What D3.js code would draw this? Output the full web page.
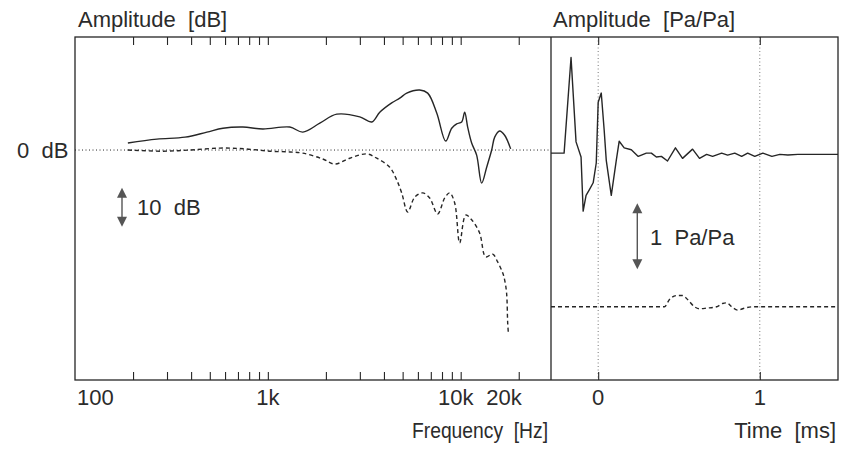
<!DOCTYPE html>
<html>
<head>
<meta charset="utf-8">
<script src="https://cdn.jsdelivr.net/npm/d3@7"></script>
<style>
  body { margin: 0; background: #fff; }
  text { font-family: "Liberation Sans", Arial, sans-serif; fill: #2b2b2b; }
</style>
</head>
<body>
<div id="chart"></div>
<script>
// frequency response, upper (solid) curve
const upperFreq = [188, 266, 372, 483, 585, 742, 942, 1300, 1518, 1860, 2278, 2998, 3458, 3805, 4389, 4831, 5250, 6134, 6745, 7513, 8363, 8983, 9533, 10120, 10490, 10870, 11400, 12100, 12850, 13640, 14480, 15010, 15920, 16900, 18160];
const upperDb   = [1.8, 2.8, 3.3, 4.6, 5.6, 5.9, 5.4, 5.9, 4.6, 6.9, 9.2, 8.5, 7.2, 9.7, 12.1, 13.3, 14.6, 15.4, 14.6, 9.5, 2.3, 5.6, 6.7, 7.2, 9.7, 5.9, 1.8, -1.3, -8.5, -4.4, 0, 3.3, 4.9, 3.8, 0.3];

// frequency response, lower (dashed) curve
const lowerFreq = [188, 286, 394, 564, 760, 1024, 1300, 1518, 1927, 2223, 2660, 3258, 3670, 4287, 4660, 4945, 5312, 5775, 6355, 6905, 7598, 8264, 8770, 9310, 9883, 10620, 11400, 12540, 13480, 14650, 15550, 16510, 16900, 17300, 17530, 17700];
const lowerDb   = [0, -0.3, 0, 0.5, 0.3, -0.3, -0.5, -0.8, -2.3, -3.6, -2.1, -1.0, -2.1, -4.4, -7.7, -11.0, -15.9, -12.1, -11.0, -12.3, -16.4, -12.3, -11.0, -13.6, -23.8, -16.7, -17.9, -21.3, -27.4, -26.7, -28.7, -31.5, -33.3, -36.7, -44.4, -47.4];

// impulse response, upper (solid) trace
const impTime = [-0.292, -0.211, -0.168, -0.137, -0.106, -0.093, -0.075, -0.056, -0.031, -0.012, 0, 0.019, 0.037, 0.05, 0.081, 0.112, 0.13, 0.161, 0.205, 0.248, 0.298, 0.329, 0.36, 0.391, 0.429, 0.478, 0.522, 0.584, 0.627, 0.671, 0.708, 0.764, 0.801, 0.845, 0.888, 0.925, 0.969, 1.019, 1.075, 1.124, 1.174, 1.236, 1.329, 1.484];
const impAmp  = [0, 0, 1.45, 0.17, -0.06, -0.88, -0.64, -0.56, -0.45, -0.15, 0.77, 0.91, 0.35, -0.11, -0.64, -0.11, 0.18, 0.08, 0.05, -0.05, 0, 0, -0.06, -0.05, -0.12, 0.08, -0.08, 0.06, -0.08, -0.02, -0.05, 0, -0.03, 0, -0.05, 0, -0.05, 0, -0.05, -0.02, -0.03, -0.02, -0.02, -0.02];

// impulse response, lower (dashed) trace
const lowTime = [-0.292, 0.41, 0.441, 0.484, 0.522, 0.553, 0.596, 0.627, 0.671, 0.733, 0.77, 0.795, 0.826, 0.863, 0.907, 0.957, 1.484];
const lowAmp  = [0, 0, 0.11, 0.17, 0.17, 0.11, 0, -0.03, -0.02, 0, 0.05, 0.06, 0, -0.05, -0.02, 0, 0];

const freqTicks = [200, 300, 400, 500, 600, 700, 800, 900, 1000, 2000, 3000, 4000, 5000, 6000, 7000, 8000, 9000, 10000, 20000];
const freqLabelValues = [100, 1000, 10000, 20000];
const freqLabels = ["100", "1k", "10k", "20k"];
const timeTicks = [0, 1];
const timeLabels = ["0", "1"];

(function chart(){

const width = 841, height = 449;
const top = 37, bottom = 380, left = 75, split = 551, right = 838;

const svg = d3.select("#chart")
  .append("svg")
  .attr("width", width)
  .attr("height", height)
  .attr("viewBox", [0, 0, width, height]);

svg.append("rect").attr("width", width).attr("height", height).attr("fill", "#fff");

let x = d3.scaleLog().domain([100, 29400]).range([left, split]);
let yL = d3.scaleLinear().domain([-59, 29]).range([bottom, top]);
let t = d3.scaleLinear().domain([-0.292, 1.484]).range([split, right]);
let yR = d3.scaleLinear().domain([-3.44, 1.76]).range([bottom, top]);
const lowOffset = -2.33; // lower trace is plotted shifted down

const ink = "#262626";

// dotted reference lines
svg.append("line")
  .attr("x1", left).attr("x2", split)
  .attr("y1", yL(0)).attr("y2", yL(0))
  .attr("stroke", ink).attr("stroke-width", 1).attr("stroke-dasharray", "1,2.5");

svg.append("g")
  .selectAll("line")
  .data(timeTicks)
  .join("line")
  .attr("x1", d => t(d)).attr("x2", d => t(d))
  .attr("y1", top).attr("y2", bottom)
  .attr("stroke", "#777").attr("stroke-width", 1).attr("stroke-dasharray", "1,2.5");

// frame
svg.append("rect")
  .attr("x", left).attr("y", top)
  .attr("width", right - left).attr("height", bottom - top)
  .attr("fill", "none").attr("stroke", ink).attr("stroke-width", 1.3);
svg.append("line")
  .attr("x1", split).attr("x2", split).attr("y1", top).attr("y2", bottom)
  .attr("stroke", ink).attr("stroke-width", 1.3);

// inward ticks, top and bottom
svg.append("g")
  .attr("transform", `translate(0,${bottom})`)
  .call(d3.axisTop(x).tickValues(freqTicks).tickSize(8).tickFormat(""))
  .call(g => g.select(".domain").remove());
svg.append("g")
  .attr("transform", `translate(0,${top})`)
  .call(d3.axisBottom(x).tickValues(freqTicks).tickSize(8).tickFormat(""))
  .call(g => g.select(".domain").remove());
svg.append("g")
  .attr("transform", `translate(0,${bottom})`)
  .call(d3.axisTop(t).tickValues(timeTicks).tickSize(8).tickFormat(""))
  .call(g => g.select(".domain").remove());
svg.append("g")
  .attr("transform", `translate(0,${top})`)
  .call(d3.axisBottom(t).tickValues(timeTicks).tickSize(8).tickFormat(""))
  .call(g => g.select(".domain").remove());
svg.selectAll(".tick line").attr("stroke", ink).attr("stroke-width", 1.1);

// tick labels
const anchors = ["start", "middle", "middle", "end"];
const shifts = [2, 0, -5, 3];
svg.append("g")
  .selectAll("text")
  .data(freqLabelValues)
  .join("text")
  .attr("x", (d, i) => x(d) + shifts[i])
  .attr("y", 405)
  .attr("text-anchor", (d, i) => anchors[i])
  .attr("font-size", 22)
  .text((d, i) => freqLabels[i]);

svg.append("g")
  .selectAll("text")
  .data(timeTicks)
  .join("text")
  .attr("x", d => t(d))
  .attr("y", 405)
  .attr("text-anchor", "middle")
  .attr("font-size", 22)
  .text((d, i) => timeLabels[i]);

// titles
svg.append("text").attr("x", 78).attr("y", 27).attr("font-size", 22).attr("xml:space", "preserve").text("Amplitude  [dB]");
svg.append("text").attr("x", 553).attr("y", 27).attr("font-size", 22).attr("xml:space", "preserve").text("Amplitude  [Pa/Pa]");
svg.append("text").attr("x", 412).attr("y", 438).attr("font-size", 22)
  .attr("textLength", 136).attr("lengthAdjust", "spacingAndGlyphs")
  .attr("xml:space", "preserve").text("Frequency  [Hz]");
svg.append("text").attr("x", 836).attr("y", 438).attr("text-anchor", "end").attr("font-size", 22).attr("xml:space", "preserve").text("Time  [ms]");
svg.append("text").attr("x", 17).attr("y", yL(0) + 8).attr("font-size", 22).text("0  dB").attr("xml:space", "preserve");

// curves
const lineF = d3.line().curve(d3.curveCatmullRom.alpha(0.5));
svg.append("path")
  .attr("d", lineF(upperFreq.map((f, i) => [x(f), yL(upperDb[i])])))
  .attr("fill", "none").attr("stroke", ink).attr("stroke-width", 1.4);
svg.append("path")
  .attr("d", lineF(lowerFreq.map((f, i) => [x(f), yL(lowerDb[i])])))
  .attr("fill", "none").attr("stroke", ink).attr("stroke-width", 1.4)
  .attr("stroke-dasharray", "4,3");

const lineT = d3.line();
svg.append("path")
  .attr("d", lineT(impTime.map((d, i) => [t(d), yR(impAmp[i])])))
  .attr("fill", "none").attr("stroke", ink).attr("stroke-width", 1.4)
  .attr("stroke-linejoin", "round");
svg.append("path")
  .attr("d", d3.line().curve(d3.curveMonotoneX)(lowTime.map((d, i) => [t(d), yR(lowAmp[i] + lowOffset)])))
  .attr("fill", "none").attr("stroke", ink).attr("stroke-width", 1.4)
  .attr("stroke-dasharray", "4,3");

// scale arrows
function arrow(cx, y1, y2) {
  const g = svg.append("g").attr("fill", "#555").attr("stroke", "#555");
  g.append("line").attr("x1", cx).attr("x2", cx).attr("y1", y1 + 8).attr("y2", y2 - 8).attr("stroke-width", 1.4);
  g.append("path").attr("stroke", "none").attr("d", `M${cx},${y1}L${cx - 5},${y1 + 10}L${cx + 5},${y1 + 10}Z`);
  g.append("path").attr("stroke", "none").attr("d", `M${cx},${y2}L${cx - 5},${y2 - 10}L${cx + 5},${y2 - 10}Z`);
}
arrow(122, yL(-9.7), yL(-19.7));
svg.append("text").attr("x", 137).attr("y", 215).attr("font-size", 22).attr("xml:space", "preserve").text("10  dB");

arrow(t(0.242), yR(-0.76), yR(-1.76));
svg.append("text").attr("x", 650).attr("y", 245).attr("font-size", 22).attr("xml:space", "preserve").text("1  Pa/Pa");

})();
</script>
</body>
</html>
